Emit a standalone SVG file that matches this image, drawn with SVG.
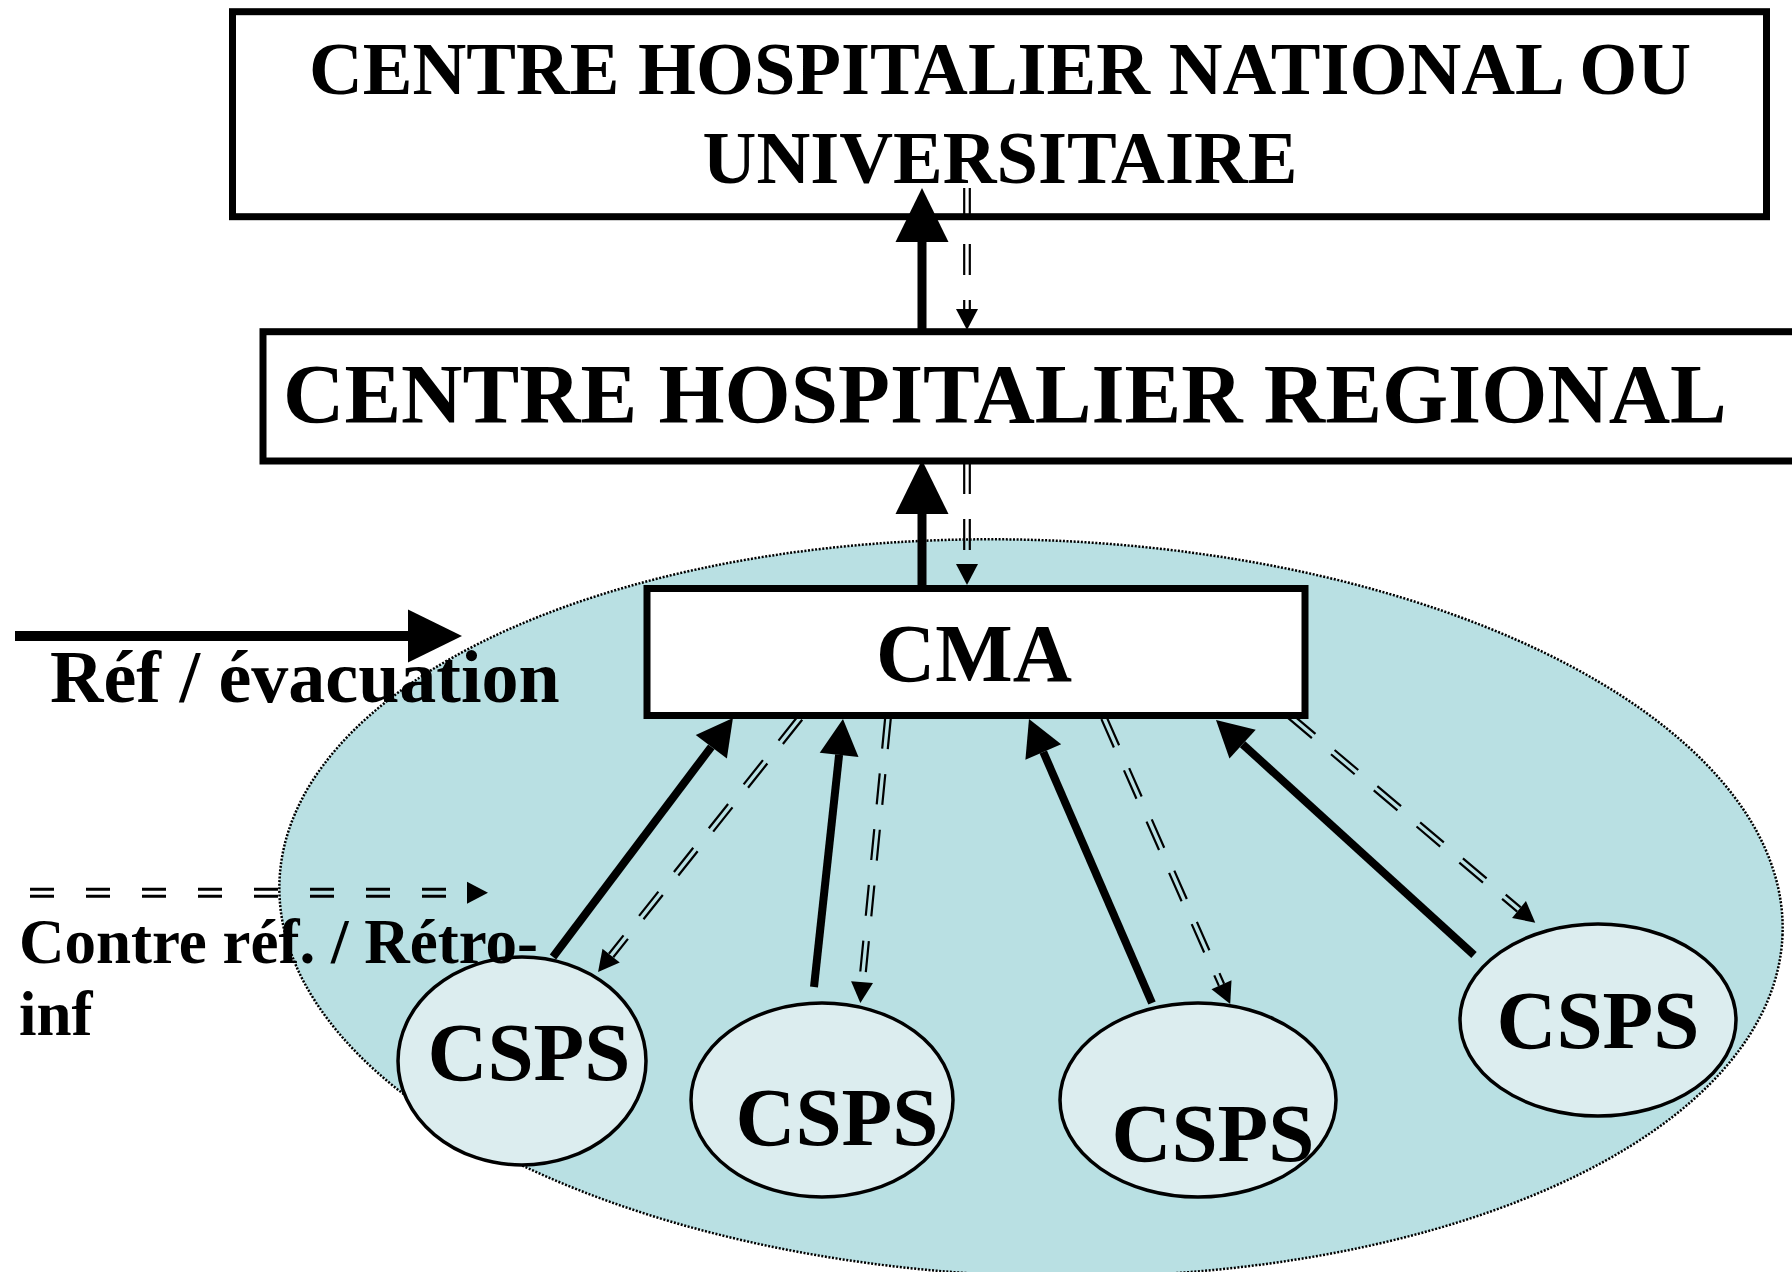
<svg xmlns="http://www.w3.org/2000/svg" width="1792" height="1272" viewBox="0 0 1792 1272">
<style>
.t{font-family:"Liberation Serif","Times New Roman",serif;font-weight:bold;fill:#000}
.box{fill:#fff;stroke:#000;stroke-width:7}
.csps{fill:#dcedef;stroke:#000;stroke-width:3.5}
.solid{stroke:#000;fill:none}
.dd{stroke:#000;stroke-width:2.2;stroke-dasharray:31 25;fill:none}
.ax{stroke:none;fill:none}
</style>
<defs>
<marker id="hBig" markerUnits="userSpaceOnUse" markerWidth="54" markerHeight="54" refX="0" refY="26.5" orient="auto" overflow="visible"><path d="M0,0 L54,26.5 L0,53 Z" fill="#000"/></marker>
<marker id="hMid" markerUnits="userSpaceOnUse" markerWidth="36" markerHeight="39" refX="0" refY="19.5" orient="auto" overflow="visible"><path d="M0,0 L36,19.5 L0,39 Z" fill="#000"/></marker>
<marker id="hSmall" markerUnits="userSpaceOnUse" markerWidth="21" markerHeight="22" refX="0" refY="11" orient="auto" overflow="visible"><path d="M0,0 L21,11 L0,22 Z" fill="#000"/></marker>
</defs>
<rect width="1792" height="1272" fill="#fff"/>

<g id="zone">
<ellipse cx="1031" cy="908" rx="752" ry="368" transform="rotate(2 1031 908)" fill="#b9e0e3" stroke="#000" stroke-width="2.5" stroke-dasharray="2 1.6"/>
</g>

<g id="chn">
<rect class="box" x="232.5" y="11.7" width="1534" height="205"/>
<text class="t" x="1000" y="94" font-size="74.5" text-anchor="middle">CENTRE HOSPITALIER NATIONAL OU</text>
<text class="t" x="1000" y="183" font-size="74.5" text-anchor="middle">UNIVERSITAIRE</text>
</g>

<g id="chr">
<rect class="box" x="263" y="331.7" width="1560" height="129.3"/>
<text class="t" x="283" y="423" font-size="85">CENTRE HOSPITALIER REGIONAL</text>
</g>

<g id="cma">
<rect class="box" x="647" y="588.5" width="658" height="127"/>
<text class="t" x="974" y="681" font-size="82" text-anchor="middle">CMA</text>
</g>

<g id="csps1">
<ellipse class="csps" cx="522" cy="1061" rx="124" ry="104"/>
<text class="t" x="529" y="1080" font-size="83" text-anchor="middle">CSPS</text>
</g>
<g id="csps2">
<ellipse class="csps" cx="822" cy="1100" rx="131" ry="97"/>
<text class="t" x="837" y="1145" font-size="83" text-anchor="middle">CSPS</text>
</g>
<g id="csps3">
<ellipse class="csps" cx="1198" cy="1100" rx="138" ry="97"/>
<text class="t" x="1213" y="1161" font-size="83" text-anchor="middle">CSPS</text>
</g>
<g id="csps4">
<ellipse class="csps" cx="1598" cy="1020" rx="138" ry="96"/>
<text class="t" x="1598" y="1048" font-size="83" text-anchor="middle">CSPS</text>
</g>

<g id="connectors">
<line class="solid" x1="922" y1="332" x2="922" y2="242" stroke-width="9" marker-end="url(#hBig)"/>
<line class="dd" x1="964.2" y1="188" x2="964.2" y2="309"/>
<line class="dd" x1="969.8" y1="188" x2="969.8" y2="309"/>
<line class="ax" x1="967" y1="288" x2="967" y2="309" marker-end="url(#hSmall)"/>
<line class="solid" x1="922" y1="585" x2="922" y2="514" stroke-width="9" marker-end="url(#hBig)"/>
<line class="dd" x1="964.2" y1="463" x2="964.2" y2="564"/>
<line class="dd" x1="969.8" y1="463" x2="969.8" y2="564"/>
<line class="ax" x1="967" y1="543" x2="967" y2="564" marker-end="url(#hSmall)"/>
<line class="solid" x1="553" y1="957" x2="711.3" y2="746.8" stroke-width="8" marker-end="url(#hMid)"/>
<line class="solid" x1="814" y1="987" x2="839.1" y2="754.8" stroke-width="8" marker-end="url(#hMid)"/>
<line class="solid" x1="1152" y1="1003" x2="1043.3" y2="752" stroke-width="8" marker-end="url(#hMid)"/>
<line class="solid" x1="1474" y1="955" x2="1242.6" y2="744.2" stroke-width="8" marker-end="url(#hMid)"/>
<line class="dd" x1="797.8" y1="716.3" x2="608.9" y2="953.8"/>
<line class="dd" x1="802.2" y1="719.7" x2="613.3" y2="957.3"/>
<line class="ax" x1="700" y1="843" x2="611.1" y2="955.6" marker-end="url(#hSmall)"/>
<line class="dd" x1="885.2" y1="717.7" x2="859.3" y2="981.8"/>
<line class="dd" x1="890.8" y1="718.3" x2="864.8" y2="982.4"/>
<line class="ax" x1="872" y1="860" x2="862.05" y2="982.1" marker-end="url(#hSmall)"/>
<line class="dd" x1="1101.4" y1="719.1" x2="1218.9" y2="985.9"/>
<line class="dd" x1="1106.6" y1="716.9" x2="1224.1" y2="983.7"/>
<line class="ax" x1="1160" y1="850" x2="1221.5" y2="984.8" marker-end="url(#hSmall)"/>
<line class="dd" x1="1288.2" y1="718.1" x2="1517.2" y2="911.6"/>
<line class="dd" x1="1291.8" y1="713.9" x2="1520.8" y2="907.3"/>
<line class="ax" x1="1400" y1="812" x2="1519" y2="909.4" marker-end="url(#hSmall)"/>
</g>

<g id="legend">
<line class="solid" x1="15" y1="636" x2="408" y2="636" stroke-width="10" marker-end="url(#hBig)"/>
<text class="t" x="50" y="702" font-size="74">Réf / évacuation</text>
<line x1="30" y1="889.3" x2="467" y2="889.3" stroke="#000" stroke-width="3" stroke-dasharray="24 32"/>
<line x1="30" y1="896.3" x2="467" y2="896.3" stroke="#000" stroke-width="3" stroke-dasharray="24 32"/>
<line class="ax" x1="400" y1="892.8" x2="467" y2="892.8" marker-end="url(#hSmall)"/>
<text class="t" x="19" y="963" font-size="63">Contre réf. / Rétro-</text>
<text class="t" x="19" y="1035" font-size="63">inf</text>
</g>
</svg>
